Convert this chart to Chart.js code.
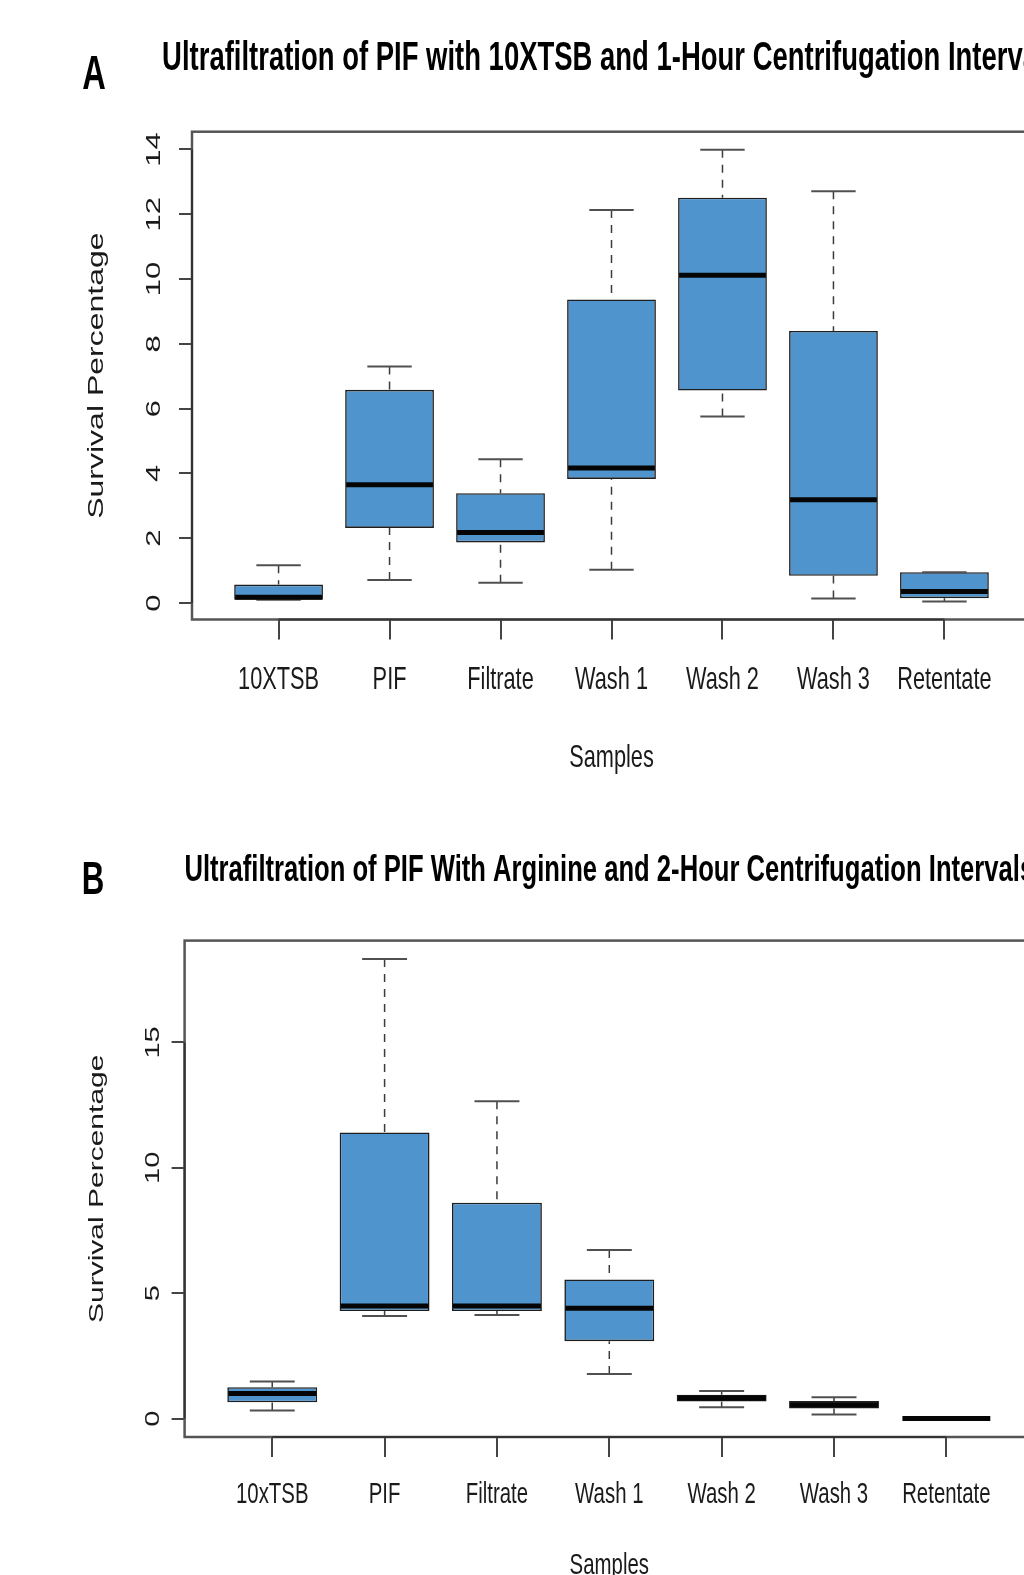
<!DOCTYPE html>
<html>
<head>
<meta charset="utf-8">
<title>Ultrafiltration of PIF</title>
<script src="https://cdn.jsdelivr.net/npm/chart.js@4/dist/chart.umd.min.js"></script>
<style>
html, body { margin: 0; padding: 0; background: #fff; overflow: hidden; width: 1024px; height: 1575px; }
canvas { position: absolute; left: 0; }
#chart-a { top: 0; }
#chart-b { top: 790px; }
</style>
</head>
<body>
<canvas id="chart-a" width="1100" height="790"></canvas>
<canvas id="chart-b" width="1100" height="785"></canvas>
<script>
// A: 10XTSB, 1-hour centrifugation intervals
var samplesA = ['10XTSB', 'PIF', 'Filtrate', 'Wash 1', 'Wash 2', 'Wash 3', 'Retentate'];
var minA = [0.10, 0.71, 0.63, 1.03, 5.76, 0.14, 0.05];
var q1A  = [0.10, 2.32, 1.87, 3.83, 6.56, 0.84, 0.15];
var medA = [0.18, 3.65, 2.18, 4.17, 10.12, 3.19, 0.36];
var q3A  = [0.57, 6.58, 3.39, 9.37, 12.51, 8.40, 0.95];
var maxA = [1.17, 7.30, 4.44, 12.13, 13.99, 12.71, 0.95];
var yTicksA = [0, 2, 4, 6, 8, 10, 12, 14];

// B: arginine, 2-hour centrifugation intervals
var samplesB = ['10xTSB', 'PIF', 'Filtrate', 'Wash 1', 'Wash 2', 'Wash 3', 'Retentate'];
var minB = [0.32, 4.09, 4.13, 1.78, 0.45, 0.16, 0];
var q1B  = [0.65, 4.29, 4.29, 3.09, 0.68, 0.40, 0];
var medB = [1.00, 4.49, 4.49, 4.40, 0.82, 0.55, 0];
var q3B  = [1.25, 11.41, 8.61, 5.55, 0.95, 0.70, 0];
var maxB = [1.48, 18.33, 12.66, 6.72, 1.10, 0.85, 0];
var yTicksB = [0, 5, 10, 15];

var SX = 0.68;   // horizontal text squeeze
var FONT = '"Liberation Sans", Arial, sans-serif';

function squishText(ctx, str, x, y, font, color, rotate) {
    ctx.save();
    ctx.translate(x, y);
    ctx.scale(SX, 1);
    if (rotate) ctx.rotate(-Math.PI / 2);
    ctx.font = font;
    ctx.fillStyle = color;
    ctx.textAlign = 'center';
    ctx.textBaseline = 'alphabetic';
    ctx.fillText(str, 0, 0);
    ctx.restore();
}

function line(ctx, x1, y1, x2, y2) {
    ctx.beginPath();
    ctx.moveTo(x1, y1);
    ctx.lineTo(x2, y2);
    ctx.stroke();
}

// whiskers, staples and medians on top of the bar boxes
var boxPlot = {
    id: 'boxPlot',
    afterDatasetsDraw: function (chart, args, o) {
        var ctx = chart.ctx, y = chart.scales.y;
        var bars = chart.getDatasetMeta(0).data;
        ctx.save();
        bars.forEach(function (bar, i) {
            var cx = bar.x, half = bar.width / 2;
            var pMin = y.getPixelForValue(o.min[i]), pQ1 = y.getPixelForValue(o.q1[i]);
            var pMed = y.getPixelForValue(o.med[i]);
            var pQ3 = y.getPixelForValue(o.q3[i]), pMax = y.getPixelForValue(o.max[i]);

            ctx.strokeStyle = '#3c3c3c';
            ctx.lineWidth = 1.5;
            ctx.setLineDash([8, 7]);
            if (pMax < pQ3) line(ctx, cx, pMax, cx, pQ3);
            if (pMin > pQ1) line(ctx, cx, pMin, cx, pQ1);
            ctx.setLineDash([]);

            ctx.strokeStyle = '#505050';
            ctx.lineWidth = 2;
            line(ctx, cx - half / 2, pMax, cx + half / 2, pMax);
            line(ctx, cx - half / 2, pMin, cx + half / 2, pMin);

            ctx.strokeStyle = '#050505';
            ctx.lineWidth = 5;
            line(ctx, cx - half + 1, pMed, cx + half - 1, pMed);
        });
        ctx.restore();
    }
};

// frame, axis lines and all the text
var panelText = {
    id: 'panelText',
    afterDraw: function (chart, args, o) {
        var ctx = chart.ctx, a = chart.chartArea;
        var xs = chart.scales.x, ys = chart.scales.y;
        var mid = (a.left + a.right) / 2;

        ctx.save();
        ctx.strokeStyle = '#555';
        ctx.lineWidth = 2.5;
        ctx.strokeRect(a.left, a.top, a.right - a.left, a.bottom - a.top);
        ctx.strokeStyle = '#333';
        ctx.lineWidth = 2;
        var xt = xs.ticks, yt = ys.ticks;
        line(ctx, xs.getPixelForValue(xt[0].value), a.bottom, xs.getPixelForValue(xt[xt.length - 1].value), a.bottom);
        line(ctx, a.left, ys.getPixelForValue(yt[0].value), a.left, ys.getPixelForValue(yt[yt.length - 1].value));
        ctx.restore();

        squishText(ctx, o.letter, o.letterX, o.letterY, 'bold ' + o.letterSize + 'px ' + FONT, '#000');
        squishText(ctx, o.title, mid, o.titleY, 'bold ' + o.titleSize + 'px ' + FONT, '#000');
        xt.forEach(function (t, i) {
            squishText(ctx, o.labels[i], xs.getPixelForValue(t.value), o.labelY, o.labelSize + 'px ' + FONT, '#1a1a1a');
        });
        yt.forEach(function (t) {
            squishText(ctx, String(t.value), o.tickX, ys.getPixelForValue(t.value), o.tickSize + 'px ' + FONT, '#1a1a1a', true);
        });
        squishText(ctx, 'Samples', mid, o.xTitleY, o.labelSize + 'px ' + FONT, '#1a1a1a');
        squishText(ctx, 'Survival Percentage', o.yTitleX, (a.top + a.bottom) / 2, o.yTitleSize + 'px ' + FONT, '#1a1a1a', true);
    }
};

function boxChart(id, names, mins, q1s, meds, q3s, maxs, yTicks, area, text) {
    var canvas = document.getElementById(id);
    var W = canvas.width, H = canvas.height;
    // R-style 4% range extension on both axes
    var lo = Math.min.apply(null, mins), hi = Math.max.apply(null, maxs);
    var ypad = 0.04 * (hi - lo);
    var n = names.length, xpad = 0.04 * n;

    text.labels = names;
    return new Chart(canvas.getContext('2d'), {
        type: 'bar',
        data: {
            datasets: [{
                data: names.map(function (s, i) { return { x: i + 1, y: [q1s[i], q3s[i]] }; }),
                backgroundColor: '#4F94CD',
                borderColor: '#1e1e1e',
                borderWidth: 1.6,
                borderSkipped: false,
                barPercentage: 0.8,
                categoryPercentage: 1.0
            }]
        },
        options: {
            responsive: false,
            animation: false,
            events: [],
            layout: { padding: { top: area.top, right: W - area.right, bottom: 0, left: 0 } },
            scales: {
                x: {
                    type: 'linear',
                    min: 0.5 - xpad,
                    max: n + 0.5 + xpad,
                    offset: false,
                    afterBuildTicks: function (s) { s.ticks = names.map(function (nm, i) { return { value: i + 1 }; }); },
                    afterFit: function (s) { s.height = H - area.bottom; },
                    ticks: { display: false },
                    border: { display: false },
                    grid: { offset: false, drawOnChartArea: false, drawTicks: true, tickLength: 20, color: '#444', lineWidth: 2 }
                },
                y: {
                    type: 'linear',
                    min: lo - ypad,
                    max: hi + ypad,
                    afterBuildTicks: function (s) { s.ticks = yTicks.map(function (v) { return { value: v }; }); },
                    afterFit: function (s) { s.width = area.left; },
                    ticks: { display: false },
                    border: { display: false },
                    grid: { drawOnChartArea: false, drawTicks: true, tickLength: 13, color: '#444', lineWidth: 2 }
                }
            },
            plugins: {
                legend: { display: false },
                tooltip: { enabled: false },
                boxPlot: { min: mins, q1: q1s, med: meds, q3: q3s, max: maxs },
                panelText: text
            }
        },
        plugins: [boxPlot, panelText]
    });
}

boxChart('chart-a', samplesA, minA, q1A, medA, q3A, maxA, yTicksA,
    { left: 192, right: 1031, top: 131.7, bottom: 619.5 },
    {
        letter: 'A', letterX: 94, letterY: 88.5, letterSize: 48,
        title: 'Ultrafiltration of PIF with 10XTSB and 1-Hour Centrifugation Intervals', titleY: 70, titleSize: 40.4,
        labelY: 689, labelSize: 32, xTitleY: 767,
        tickX: 160, tickSize: 31, yTitleX: 103, yTitleSize: 32
    });

boxChart('chart-b', samplesB, minB, q1B, medB, q3B, maxB, yTicksB,
    { left: 184.6, right: 1034, top: 150.6, bottom: 647 },
    {
        letter: 'B', letterX: 93, letterY: 104, letterSize: 46,
        title: 'Ultrafiltration of PIF With Arginine and 2-Hour Centrifugation Intervals', titleY: 91, titleSize: 37.7,
        labelY: 713, labelSize: 30, xTitleY: 784,
        tickX: 159, tickSize: 29, yTitleX: 103, yTitleSize: 30
    });
</script>
</body>
</html>
